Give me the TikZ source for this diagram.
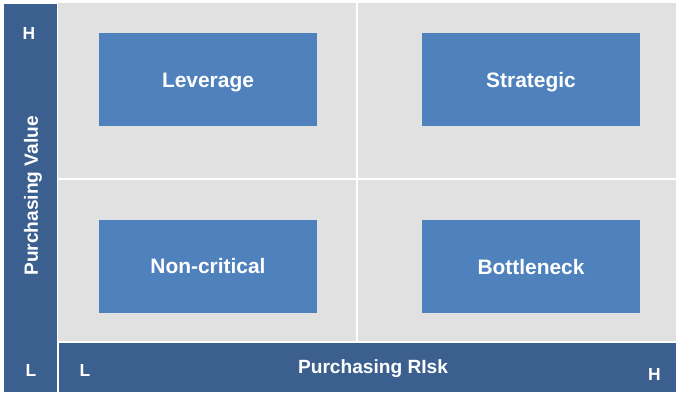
\documentclass[tikz,border=0pt]{standalone}
\usepackage{fontspec}
\setmainfont{Liberation Sans}
\definecolor{bardark}{HTML}{3B5F8E}
\definecolor{boxblue}{HTML}{4F81BD}
\definecolor{quadgray}{HTML}{E1E1E1}
\tikzset{
  quad/.style={fill=quadgray, draw=none, inner sep=0pt, anchor=north west},
  bar/.style={fill=bardark, draw=none, inner sep=0pt, anchor=north west},
  catbox/.style={fill=boxblue, draw=none, inner sep=0pt, minimum width=218bp, minimum height=93bp,
    text=white, font=\fontsize{21}{25}\selectfont\bfseries, text height=15bp, text depth=0pt},
  axislabel/.style={text=white, inner sep=0pt, font=\fontsize{19.2}{23}\selectfont\bfseries, text height=13.8bp, text depth=0pt},
  endlabel/.style={text=white, inner sep=0pt, font=\fontsize{17.5}{21}\selectfont\bfseries, text height=12.6bp, text depth=0pt}
}
\begin{document}
\begin{tikzpicture}[x=1bp, y=-1bp]
\useasboundingbox (0,0) rectangle (676,393);
\fill[white] (0,0) rectangle (676,393);
% quadrants
\node[quad, minimum width=297.3bp, minimum height=175bp] (qtl) at (58,3) {};
\node[quad, minimum width=318.3bp, minimum height=175bp] (qtr) at (357.7,3) {};
\node[quad, minimum width=297.3bp, minimum height=161bp] (qbl) at (58,180) {};
\node[quad, minimum width=318.3bp, minimum height=161bp] (qbr) at (357.7,180) {};
% bars
\node[bar, minimum width=53bp, minimum height=388bp] (leftbar) at (4,4) {};
\node[bar, minimum width=617bp, minimum height=49bp] (bottombar) at (59,343) {};
% category boxes
\node[catbox] (leverage) at (208,79.5) {Leverage};
\node[catbox] (strategic) at (531,79.5) {Strategic};
\node[catbox] (noncritical) at (208,266) {Non-critical};
\node[catbox] (bottleneck) at (531,266.5) {Bottleneck};
% axis labels
\node[axislabel, rotate=90] (pvalue) at (31,196) {Purchasing Value};
\node[axislabel] (prisk) at (373,366.7) {Purchasing RIsk};
\node[endlabel] (vh) at (29,33) {H};
\node[endlabel] (vl) at (31,370) {L};
\node[endlabel] (rl) at (85,370) {L};
\node[endlabel] (rh) at (654.5,374) {H};
\end{tikzpicture}
\end{document}
